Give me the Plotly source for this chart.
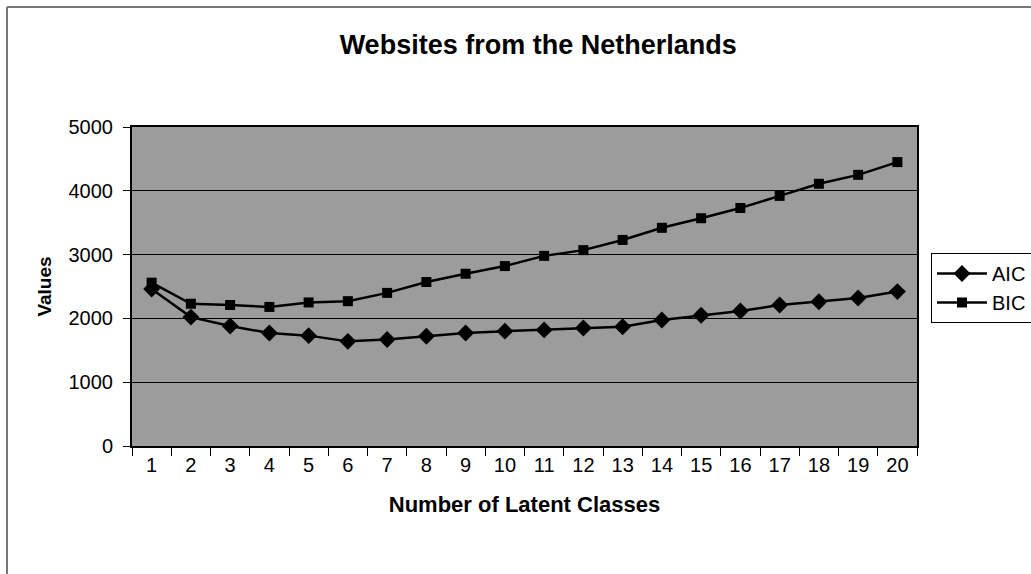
import plotly.graph_objects as go

classes = list(range(1, 21))
aic = [2460, 2020, 1880, 1770, 1730, 1640, 1670, 1720, 1770, 1800,
       1820, 1850, 1870, 1975, 2050, 2115, 2210, 2260, 2320, 2420]
bic = [2560, 2230, 2210, 2180, 2250, 2270, 2400, 2570, 2700, 2820,
       2980, 3070, 3230, 3420, 3570, 3730, 3920, 4110, 4250, 4450]
y_ticks = [0, 1000, 2000, 3000, 4000, 5000]

FONT = "Liberation Sans, Arial, sans-serif"

PX0, PW, PY0, PH = 132, 785, 446, 319  # plot area in pixels (for border shapes)


def px_x(p):
    return (p - PX0) / PW


def px_y(p):
    return (PY0 - p) / PH


fig = go.Figure()
fig.add_trace(go.Scatter(
    x=classes, y=aic, name="AIC", mode="lines+markers",
    line=dict(color="black", width=2.5),
    marker=dict(symbol="diamond", size=13, color="black"),
))
fig.add_trace(go.Scatter(
    x=classes, y=bic, name="BIC", mode="lines+markers",
    line=dict(color="black", width=2.5),
    marker=dict(symbol="square", size=10, color="black"),
))

fig.update_layout(
    width=1031, height=574,
    margin=dict(l=132, r=114, t=127, b=128, autoexpand=False),
    paper_bgcolor="white",
    plot_bgcolor="#9c9c9c",
    font=dict(family=FONT, color="black", size=20),
    title=dict(text="<b>Websites from the Netherlands</b>",
               x=0.522, xanchor="center", y=1 - 45 / 574, yanchor="middle",
               font=dict(size=27, family=FONT)),
    legend=dict(x=px_x(931), xanchor="left", y=px_y(288),
                yanchor="middle",
                bordercolor="black", borderwidth=1, bgcolor="white",
                font=dict(size=20), itemwidth=50, tracegroupgap=14),
    xaxis=dict(
        range=[0.5, 20.5], tickmode="array", tickvals=classes,
        ticktext=[str(c) for c in classes], ticks="",
        showgrid=False, zeroline=False,
        showline=True, linecolor="black", linewidth=2, mirror=True,
        minor=dict(tick0=0.5, dtick=1, ticks="outside", ticklen=8,
                   tickcolor="black", showgrid=False),
        tickfont=dict(size=20),
        title=dict(text="<b>Number of Latent Classes</b>", font=dict(size=22),
                   standoff=22),
    ),
    yaxis=dict(
        range=[0, 5000], tickmode="array", tickvals=y_ticks,
        ticks="outside", ticklen=7, tickcolor="black",
        ticklabelstandoff=6,
        showgrid=True, gridcolor="black", gridwidth=1,
        zeroline=False,
        showline=True, linecolor="black", linewidth=2, mirror=True,
        tickfont=dict(size=20),
        title=dict(text="<b>Values</b>", font=dict(size=19), standoff=12),
    ),
    shapes=[
        dict(type="line", xref="paper", yref="paper",
             x0=px_x(7), x1=px_x(1031), y0=px_y(7), y1=px_y(7),
             line=dict(color="#777777", width=2)),
        dict(type="line", xref="paper", yref="paper",
             x0=px_x(7), x1=px_x(7), y0=px_y(7), y1=px_y(574),
             line=dict(color="#777777", width=2)),
    ],
)

fig.write_html("out.html",
               config={"displayModeBar": False},
               post_script="document.body.style.margin='0';")
